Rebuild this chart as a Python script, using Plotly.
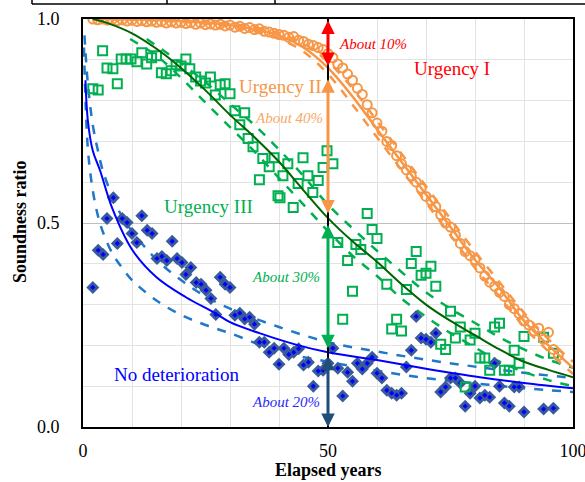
import plotly.graph_objects as go

# ---------------- data ----------------
# Orange circles (Urgency I data)
or_x = list(range(2, 98))
or_y = [1.0, 0.998, 1.0, 0.997, 0.999, 0.996, 0.998, 0.995, 0.997, 0.994, 0.996, 0.993, 0.995, 0.992,
        0.994, 0.99, 0.993, 0.99, 0.992, 0.989, 0.991, 0.987, 0.99, 0.986, 0.988, 0.985, 0.987, 0.983,
        0.985, 0.98, 0.982, 0.977, 0.979, 0.974, 0.976, 0.97, 0.968, 0.965, 0.962, 0.96, 0.955, 0.957,
        0.948, 0.945, 0.938, 0.935, 0.93, 0.925, 0.915, 0.905, 0.89, 0.88, 0.865, 0.85, 0.83, 0.815,
        0.79, 0.77, 0.745, 0.725, 0.7, 0.69, 0.665, 0.645, 0.63, 0.615, 0.6, 0.585, 0.565, 0.555, 0.54,
        0.52, 0.5, 0.49, 0.47, 0.45, 0.43, 0.42, 0.41, 0.39, 0.37, 0.355, 0.345, 0.33, 0.32, 0.3, 0.29,
        0.278, 0.26, 0.25, 0.235, 0.242, 0.215, 0.232, 0.19, 0.175]

# Green squares (Urgency II / III data)
gr_x = [2, 3.1, 4, 4.9, 6.1, 7, 7.8, 8.8, 9.8, 11, 12, 13, 14, 15, 16, 17, 18, 19, 20, 21, 21.8, 23, 24,
        25, 26, 27, 28, 29, 30, 31, 32, 33, 33.7, 34.7, 36, 36.7, 38, 39, 39.8, 40.2, 40.8, 41.8, 42.9,
        43.9, 44.9, 45.9, 46.9, 48, 49, 49.8, 51, 52, 53, 54, 55, 55.7, 56.7, 58, 59, 60, 60.8, 62, 63,
        64, 65, 66, 67, 68, 69, 70, 71, 72, 73, 74, 75, 76, 77, 78, 79, 80, 81, 82, 83, 84, 85, 86, 87,
        88, 89, 90, 94, 96]
gr_y = [0.829, 0.826, 0.922, 0.88, 0.878, 0.841, 0.902, 0.902, 0.902, 0.895, 0.917, 0.89, 0.905, 0.91,
        0.868, 0.866, 0.873, 0.888, 0.885, 0.902, 0.878, 0.858, 0.848, 0.843, 0.858, 0.814, 0.839, 0.841,
        0.817, 0.775, 0.741, 0.77, 0.707, 0.687, 0.606, 0.658, 0.638, 0.66, 0.567, 0.562, 0.616, 0.645,
        0.538, 0.597, 0.66, 0.616, 0.575, 0.604, 0.636, 0.677, 0.645, 0.452, 0.264, 0.408, 0.333, 0.447,
        0.435, 0.523, 0.484, 0.462, 0.401, 0.35, 0.24, 0.264, 0.235, 0.337, 0.401, 0.43, 0.372, 0.377,
        0.394, 0.345, 0.203, 0.19, 0.284, 0.218, 0.245, 0.098, 0.213, 0.23, 0.169, 0.169, 0.139, 0.245,
        0.254, 0.139, 0.139, 0.188, 0.156, 0.222, 0.22, 0.181]

# Blue diamonds (No deterioration data)
bl_x = [2, 3.1, 4.1, 4.9, 6.2, 7, 8, 9, 10, 11, 12, 13.1, 14.1, 15.1, 16.1, 17.1, 18.2, 19.2, 20.2, 21,
        22, 23.1, 24.1, 25.1, 26.1, 27.1, 28, 29, 30, 31, 32, 33, 34, 35, 36, 37, 38, 39, 40, 41, 42, 43,
        44, 45, 46, 47, 48, 49, 50, 51, 52, 53, 54, 55, 56, 57, 58, 59, 60, 61, 62, 63, 64, 65, 66, 67,
        68, 69, 70, 71, 72, 73, 74, 75, 76, 77, 78, 79, 80, 81, 82, 83, 84, 85, 86, 87, 88, 89, 90, 94, 96]
bl_y = [0.342, 0.433, 0.423, 0.511, 0.562, 0.45, 0.511, 0.501, 0.474, 0.452, 0.518, 0.482, 0.474, 0.413,
        0.418, 0.408, 0.455, 0.413, 0.403, 0.374, 0.391, 0.354, 0.35, 0.335, 0.315, 0.276, 0.367, 0.35,
        0.342, 0.274, 0.279, 0.265, 0.269, 0.252, 0.208, 0.208, 0.183, 0.193, 0.154, 0.193, 0.178, 0.183,
        0.192, 0.152, 0.159, 0.1, 0.137, 0.139, 0.156, 0.193, 0.144, 0.076, 0.134, 0.112, 0.156, 0.142,
        0.156, 0.171, 0.132, 0.12, 0.09, 0.083, 0.078, 0.083, 0.147, 0.188, 0.271, 0.218, 0.215, 0.208,
        0.23, 0.086, 0.098, 0.12, 0.12, 0.108, 0.051, 0.083, 0.1, 0.071, 0.078, 0.073, 0.156, 0.1, 0.059,
        0.051, 0.098, 0.098, 0.037, 0.044, 0.046]

# Fitted curves (read at sample years)
fit_or_x = [2, 10, 20, 30, 35, 40, 45, 50, 55, 60, 65, 70, 75, 80, 85, 90, 95, 100]
fit_or_y = [1.0, 0.999, 0.995, 0.985, 0.975, 0.96, 0.93, 0.88, 0.81, 0.73, 0.65, 0.57, 0.49, 0.41, 0.34,
            0.26, 0.2, 0.145]
fit_or_up = [1.0, 0.999, 0.996, 0.988, 0.98, 0.965, 0.94, 0.895, 0.83, 0.75, 0.67, 0.59, 0.51, 0.43,
             0.355, 0.28, 0.215, 0.16]
fit_or_lo = [1.0, 0.998, 0.993, 0.982, 0.97, 0.952, 0.92, 0.865, 0.79, 0.71, 0.63, 0.55, 0.47, 0.39,
             0.32, 0.245, 0.185, 0.13]

fit_gr_x = [2, 5, 10, 15, 20, 25, 30, 35, 40, 45, 50, 55, 60, 65, 70, 75, 80, 85, 90, 95, 100]
fit_gr_y = [1.0, 0.99, 0.965, 0.927, 0.88, 0.825, 0.765, 0.71, 0.65, 0.58, 0.512, 0.455, 0.405, 0.35,
            0.30, 0.26, 0.225, 0.19, 0.16, 0.14, 0.122]
dash_gr_up_x = [13, 20, 25, 30, 35, 40, 45, 50, 55, 60, 65, 70, 75, 80, 85, 90, 95, 100]
dash_gr_up = [0.951, 0.892, 0.845, 0.792, 0.74, 0.68, 0.615, 0.545, 0.487, 0.432, 0.38, 0.33, 0.29,
              0.255, 0.22, 0.19, 0.165, 0.145]
dash_gr_lo_x = [9.6, 15, 20, 25, 30, 35, 40, 45, 50, 55, 60, 65, 70, 75, 80, 85, 90, 95, 100]
dash_gr_lo = [0.951, 0.91, 0.856, 0.795, 0.735, 0.675, 0.61, 0.545, 0.48, 0.42, 0.37, 0.315, 0.27, 0.23,
              0.195, 0.16, 0.135, 0.115, 0.1]

fit_bl_x = [0.5, 1, 2, 3.5, 6, 10, 15, 21, 27, 30, 36, 44, 50, 60, 70, 81, 90, 100]
fit_bl_y = [0.85, 0.75, 0.677, 0.628, 0.535, 0.435, 0.367, 0.318, 0.279, 0.257, 0.23, 0.2, 0.183, 0.164,
            0.143, 0.122, 0.108, 0.095]
dash_bl_up_x = [0.3, 1, 2, 3, 4, 6, 8, 10, 15, 20, 25, 30, 40, 50, 60, 70, 80, 90, 100]
dash_bl_up = [0.96, 0.84, 0.74, 0.68, 0.63, 0.565, 0.515, 0.48, 0.41, 0.36, 0.32, 0.29, 0.245, 0.208,
              0.185, 0.165, 0.148, 0.133, 0.12]
dash_bl_lo_x = [0.2, 1, 2, 3, 4, 6, 8, 10, 15, 20, 25, 30, 40, 50, 60, 70, 80, 90, 100]
dash_bl_lo = [0.93, 0.68, 0.58, 0.52, 0.48, 0.425, 0.39, 0.36, 0.31, 0.275, 0.25, 0.23, 0.185, 0.16,
              0.138, 0.12, 0.107, 0.095, 0.086]

# Arrows at 50 years: (start, end) soundness ratios
arrow_year = 50
arrow_spans = [(1.0, 0.885), (0.856, 0.523), (0.499, 0.193), (0.176, 0.0)]
arrow_colors = ["#FF0000", "#F79646", "#00B050", "#1F4E79"]

ORANGE = "#F79646"
GREEN = "#00B050"
SERIF = "Liberation Serif"

fig = go.Figure()

# dashed bands and fits
fig.add_trace(go.Scatter(x=dash_bl_up_x, y=dash_bl_up, mode="lines", line=dict(color="#1F78C8", width=2.5, dash="dash", shape="spline")))
fig.add_trace(go.Scatter(x=dash_bl_lo_x, y=dash_bl_lo, mode="lines", line=dict(color="#1F78C8", width=2.5, dash="dash", shape="spline")))
fig.add_trace(go.Scatter(x=dash_gr_up_x, y=dash_gr_up, mode="lines", line=dict(color=GREEN, width=2.5, dash="dash", shape="spline")))
fig.add_trace(go.Scatter(x=dash_gr_lo_x, y=dash_gr_lo, mode="lines", line=dict(color=GREEN, width=2.5, dash="dash", shape="spline")))

# scatter data
fig.add_trace(go.Scatter(x=bl_x, y=bl_y, mode="markers",
                         marker=dict(symbol="diamond", size=10, color="#3A5B9B", line=dict(width=0))))
fig.add_trace(go.Scatter(x=bl_x, y=bl_y, mode="markers",
                         marker=dict(symbol="diamond", size=4, color="#0000FF", line=dict(width=0))))
fig.add_trace(go.Scatter(x=gr_x, y=gr_y, mode="markers",
                         marker=dict(symbol="square-open", size=9, color=GREEN, line=dict(width=2, color=GREEN))))
fig.add_trace(go.Scatter(x=or_x, y=or_y, mode="markers",
                         marker=dict(symbol="circle-open", size=9, color=ORANGE, line=dict(width=2, color=ORANGE))))

fig.add_trace(go.Scatter(x=fit_or_x, y=fit_or_up, mode="lines", line=dict(color=ORANGE, width=2.5, dash="dash", shape="spline")))
fig.add_trace(go.Scatter(x=fit_or_x, y=fit_or_lo, mode="lines", line=dict(color=ORANGE, width=2.5, dash="dash", shape="spline")))
fig.add_trace(go.Scatter(x=fit_or_x, y=fit_or_y, mode="lines", line=dict(color=ORANGE, width=2.5, shape="spline")))
fig.add_trace(go.Scatter(x=fit_gr_x, y=fit_gr_y, mode="lines", line=dict(color="#006400", width=2, shape="spline")))
fig.add_trace(go.Scatter(x=fit_bl_x, y=fit_bl_y, mode="lines", line=dict(color="#0000FF", width=2, shape="spline")))

# black vertical line at 50 years
fig.add_trace(go.Scatter(x=[arrow_year, arrow_year], y=[1.0, 0.0], mode="lines", line=dict(color="black", width=2)))

annotations = []
for (y0, y1), c in zip(arrow_spans, arrow_colors):
    annotations.append(dict(x=arrow_year, y=y1, ax=arrow_year, ay=y0, xref="x", yref="y", axref="x", ayref="y",
                            text="", showarrow=True, arrowhead=2, arrowsize=0.9, arrowwidth=3,
                            arrowside="end+start", arrowcolor=c, startarrowhead=2, startarrowsize=0.9))

labels = [
    ("Urgency I", 452, 68, "#FF0000", False),
    ("Urgency II", 280, 86, ORANGE, False),
    ("Urgency III", 208, 206, GREEN, False),
    ("No deterioration", 177, 374, "#0000FF", False),
    ("About 10%", 373, 43, "#FF0000", True),
    ("About 40%", 289, 117, "#F9A868", True),
    ("About 30%", 286, 277, GREEN, True),
    ("About 20%", 286, 402, "#2A2AFF", True),
]
for t, px, py, c, it in labels:
    xd = (px - 83) / 4.9
    yd = (427 - py) / 409
    annotations.append(dict(x=xd, y=yd, xref="x", yref="y", text=t, showarrow=False,
                            font=dict(family=SERIF, size=15 if it else 19, color=c,
                                      style="italic" if it else "normal")))

# axis titles as paper annotations
annotations.append(dict(x=(328 - 83) / 490, y=(427 - 470) / 408, xref="paper", yref="paper",
                        text="<b>Elapsed years</b>", showarrow=False, xanchor="center", yanchor="middle",
                        font=dict(family=SERIF, size=18, color="black")))
annotations.append(dict(x=(20 - 83) / 490, y=(427 - 222) / 408, xref="paper", yref="paper",
                        text="<b>Soundness ratio</b>", showarrow=False, xanchor="center", yanchor="middle",
                        textangle=-90, font=dict(family=SERIF, size=18, color="black")))

shapes = [
    dict(type="line", xref="paper", yref="paper", x0=(32 - 83) / 490, x1=(585 - 83) / 490,
         y0=(427 - 4) / 408, y1=(427 - 4) / 408, line=dict(color="black", width=1.5)),
]
for vx in [32, 167, 275]:
    shapes.append(dict(type="line", xref="paper", yref="paper", x0=(vx - 83) / 490, x1=(vx - 83) / 490,
                       y0=(427 - 4) / 408, y1=(427 + 2) / 408, line=dict(color="black", width=1.5)))

fig.update_layout(
    width=585, height=482,
    margin=dict(l=83, r=12, t=19, b=55, autoexpand=False),
    paper_bgcolor="white", plot_bgcolor="white",
    showlegend=False,
    annotations=annotations,
    shapes=shapes,
    font=dict(family=SERIF, color="black"),
)
fig.update_xaxes(range=[0, 100], tickvals=[0, 50, 100], ticktext=["0", "50", "100"],
                 showgrid=True, gridcolor="#BFBFBF", gridwidth=1,
                 minor=dict(dtick=10, tick0=0, showgrid=True, gridcolor="#E3E3E3", gridwidth=1),
                 showline=True, linecolor="black", linewidth=2, mirror=True,
                 ticks="outside", ticklen=6, tickcolor="rgba(0,0,0,0)", zeroline=False, automargin=False,
                 ticklabeloverflow="allow",
                 tickfont=dict(family=SERIF, size=18, color="black"))
fig.update_yaxes(range=[0, 1], tickvals=[0, 0.5, 1.0], ticktext=["0.0", "0.5", "1.0"],
                 showgrid=True, gridcolor="#BFBFBF", gridwidth=1,
                 minor=dict(dtick=0.1, tick0=0, showgrid=True, gridcolor="#E3E3E3", gridwidth=1),
                 showline=True, linecolor="black", linewidth=2, mirror=True,
                 ticks="outside", ticklen=18, tickcolor="rgba(0,0,0,0)", zeroline=False, automargin=False,
                 tickfont=dict(family=SERIF, size=18, color="black"))

fig.write_html("out.html")
